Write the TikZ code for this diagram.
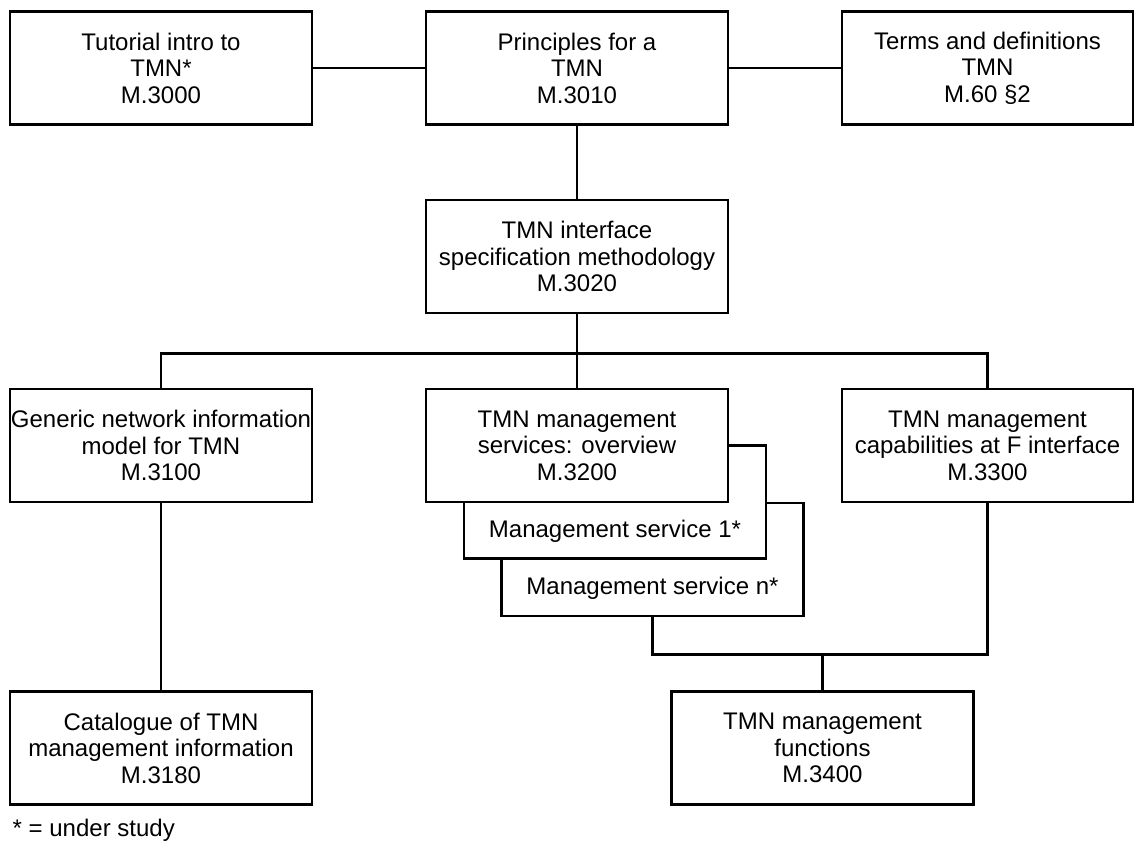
\documentclass[tikz,border=0pt]{standalone}
\usepackage{fontspec}
\setmainfont{Liberation Sans}
\usetikzlibrary{calc}
\begin{document}
\begin{tikzpicture}[x=0.75pt,y=-0.75pt,
  every node/.style={font=\fontsize{18pt}{19.9pt}\selectfont},
  rec/.style={draw, fill=white, line width=1.9pt, inner sep=0pt, align=center,
              minimum width=226.5pt, minimum height=84.75pt},
  recnarrow/.style={rec, minimum width=218.25pt},
  link/.style={line width=1.9pt}]
\useasboundingbox (0,0) rectangle (1136,846);

% top row
\node[rec] (tut) at (161,68) {Tutorial intro to\\TMN*\\M.3000};
\node[rec] (prin) at (577,68) {Principles for a\\TMN\\M.3010};
\node[recnarrow] (terms) at (987.5,68) {Terms and definitions\\TMN\\M.60 \S2};

% methodology
\node[rec] (iface) at (577,256.5) {TMN interface\\specification methodology\\M.3020};

% middle row, with the stacked management service sheets behind M.3200
\node[rec] (msn) at (652.5,559.5) {};
\node (msntext) at ($(msn.south)+(0,-29)$) {Management service n*};
\node[rec] (ms1) at (615,502) {};
\node (ms1text) at ($(ms1.south)+(0,-28)$) {Management service 1*};
\node[rec] (gen) at (161,445.5) {Generic network information\\model for TMN\\M.3100};
\node[rec] (serv) at (577,445.5) {TMN management\\services: overview\\M.3200};
\node[recnarrow] (cap) at (987.5,445.5) {TMN management\\capabilities at F interface\\M.3300};

% bottom row
\node[rec] (cat) at (161,748) {Catalogue of TMN\\management information\\M.3180};
\node[rec] (fun) at (822.5,748) {TMN management\\functions\\M.3400};

\node[anchor=base west] (note) at (8,836) {* = under study};

% connectors
\draw[link] (tut.east) -- (prin.west);
\draw[link] (prin.east) -- (terms.west);
\draw[link] (prin.south) -- (iface.north);
\coordinate (bus) at ($(iface.south)+(0,39)$);
\draw[link] (iface.south) -- (serv.north);
\draw[link] (gen.north) |- (bus) -| (cap.north);
\draw[link] (gen.south) -- (cat.north);
\coordinate (low) at ($(msn.south)+(0,37)$);
\draw[link] (msn.south) -- (low) -| (cap.south);
\draw[link] (fun.north) -- (fun.north |- low);
\end{tikzpicture}
\end{document}
